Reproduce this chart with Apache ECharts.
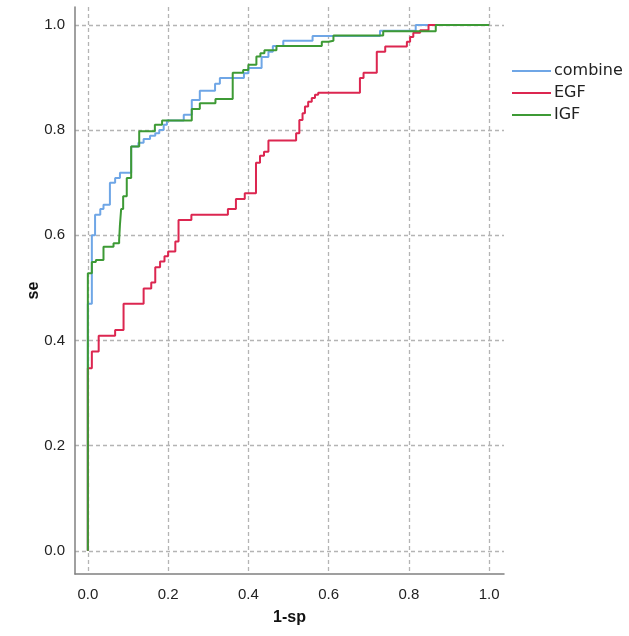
<!DOCTYPE html>
<html>
<head>
<meta charset="utf-8">
<script src="https://cdn.jsdelivr.net/npm/echarts@6/dist/echarts.min.js"></script>
<style>
  html, body { margin: 0; padding: 0; background: #fff; }
  #main { width: 629px; height: 636px; }
</style>
</head>
<body>
<div id="main"></div>
<script>
// ROC points (1-sp, se), corner after each vertical step
var combineX = [0, 0, 0.01, 0.018, 0.031, 0.039, 0.055, 0.068, 0.08, 0.108, 0.126, 0.139, 0.155, 0.168, 0.178, 0.189, 0.197, 0.239, 0.259, 0.279, 0.317, 0.329, 0.389, 0.40, 0.433, 0.45, 0.461, 0.487, 0.56, 0.728, 0.817, 1];
var combineY = [0, 0.47, 0.60, 0.639, 0.65, 0.658, 0.70, 0.709, 0.719, 0.769, 0.776, 0.783, 0.789, 0.794, 0.80, 0.81, 0.818, 0.829, 0.857, 0.875, 0.888, 0.899, 0.908, 0.918, 0.939, 0.949, 0.96, 0.97, 0.979, 0.989, 1.0, 1.0];

var egfX = [0, 0, 0.01, 0.027, 0.068, 0.089, 0.139, 0.158, 0.168, 0.18, 0.191, 0.2, 0.218, 0.226, 0.258, 0.349, 0.369, 0.391, 0.419, 0.429, 0.439, 0.45, 0.519, 0.527, 0.535, 0.541, 0.549, 0.558, 0.566, 0.574, 0.678, 0.687, 0.72, 0.741, 0.795, 0.803, 0.811, 0.828, 0.849, 1];
var egfY = [0, 0.347, 0.379, 0.409, 0.42, 0.47, 0.499, 0.51, 0.539, 0.55, 0.56, 0.569, 0.588, 0.629, 0.639, 0.65, 0.669, 0.68, 0.738, 0.751, 0.759, 0.78, 0.794, 0.819, 0.832, 0.845, 0.854, 0.861, 0.867, 0.871, 0.899, 0.909, 0.949, 0.959, 0.968, 0.977, 0.985, 0.99, 1.0, 1.0];

var igfX = [0, 0, 0.01, 0.02, 0.039, 0.039, 0.064, 0.078, 0.08, 0.083, 0.088, 0.097, 0.108, 0.128, 0.167, 0.185, 0.259, 0.279, 0.318, 0.361, 0.387, 0.40, 0.42, 0.43, 0.44, 0.47, 0.583, 0.60, 0.612, 0.736, 0.867, 1];
var igfY = [0, 0.528, 0.549, 0.553, 0.56, 0.578, 0.585, 0.591, 0.62, 0.65, 0.674, 0.709, 0.769, 0.798, 0.81, 0.818, 0.84, 0.851, 0.859, 0.909, 0.914, 0.924, 0.94, 0.946, 0.952, 0.96, 0.968, 0.97, 0.98, 0.988, 1.0, 1.0];

var ticks = [0, 0.2, 0.4, 0.6, 0.8, 1.0];

function pairs(xs, ys) {
  return xs.map(function (x, i) { return [x, ys[i]]; });
}

var font = 'Liberation Sans, Arial, sans-serif';
var chart = echarts.init(document.getElementById('main'));

var gridLine = { show: true, lineStyle: { color: '#b4b4b4', type: [4, 3], width: 1.3 } };

var option = {
  animation: false,
  textStyle: { fontFamily: font },
  legend: {
    orient: 'vertical',
    left: 507,
    top: 58,
    itemWidth: 39,
    itemHeight: 2,
    itemGap: 6,
    icon: 'rect',
    textStyle: { fontSize: 16, color: '#222', fontFamily: 'DejaVu Sans, sans-serif', padding: [0, 0, 0, -2] },
    data: ['combine', 'EGF', 'IGF']
  },
  grid: { left: 75, right: 125, top: 7, bottom: 62 },
  xAxis: {
    type: 'value',
    min: -0.032,
    max: 1.037,
    name: '1-sp',
    nameLocation: 'middle',
    nameGap: 36,
    nameTextStyle: { fontWeight: 'bold', fontSize: 16, color: '#111', fontFamily: font },
    axisLine: { show: true, onZero: false, lineStyle: { color: '#808080', width: 1.5 } },
    axisTick: { show: false, customValues: ticks },
    axisLabel: { customValues: ticks, margin: 13, fontSize: 15, color: '#222', fontFamily: font,
      formatter: function (v) { return v.toFixed(1); } },
    splitLine: gridLine
  },
  yAxis: {
    type: 'value',
    min: -0.044,
    max: 1.034,
    name: 'se',
    nameLocation: 'middle',
    nameGap: 33,
    nameMoveOverlap: false,
    nameTextStyle: { fontWeight: 'bold', fontSize: 16, color: '#111', fontFamily: font },
    axisLine: { show: true, onZero: false, lineStyle: { color: '#808080', width: 1.5 } },
    axisTick: { show: false, customValues: ticks },
    axisLabel: { customValues: ticks, margin: 10, fontSize: 15, color: '#222', fontFamily: font,
      formatter: function (v) { return v.toFixed(1); } },
    splitLine: gridLine
  },
  series: [
    { name: 'combine', type: 'line', step: 'end', showSymbol: false, data: pairs(combineX, combineY),
      lineStyle: { width: 2, color: '#6fa6e6' }, itemStyle: { color: '#6fa6e6' } },
    { name: 'EGF', type: 'line', step: 'end', showSymbol: false, data: pairs(egfX, egfY),
      lineStyle: { width: 2, color: '#dc2650' }, itemStyle: { color: '#dc2650' } },
    { name: 'IGF', type: 'line', step: 'end', showSymbol: false, data: pairs(igfX, igfY),
      lineStyle: { width: 2, color: '#3d9a35' }, itemStyle: { color: '#3d9a35' } }
  ]
};

chart.setOption(option);
</script>
</body>
</html>
